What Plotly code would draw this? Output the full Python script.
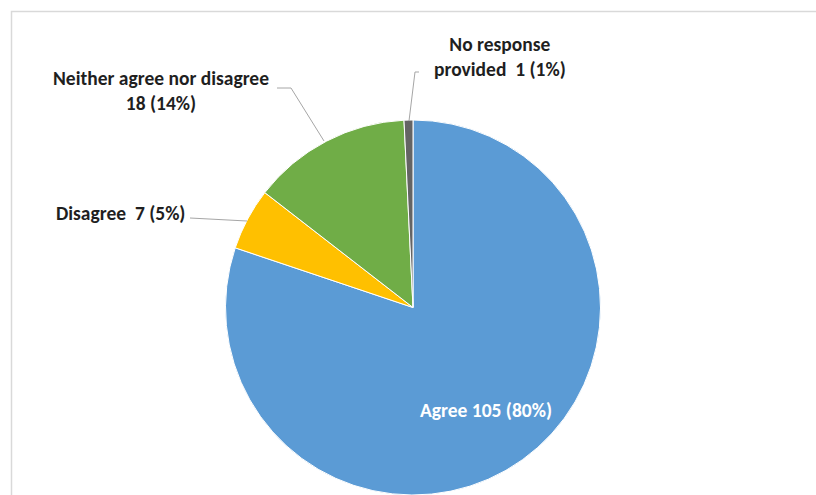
import plotly.graph_objects as go

# Survey responses
categories = ["Agree", "Disagree", "Neither agree nor disagree", "No response provided"]
counts = [105, 7, 18, 1]
percents = [80, 5, 14, 1]
colors = ["#5B9BD5", "#FFC000", "#70AD47", "#646464"]

W, H = 816, 495


def px(x):
    return x / W


def py(y):
    return 1 - y / H


fig = go.Figure(
    go.Pie(
        labels=categories,
        values=counts,
        sort=False,
        direction="clockwise",
        rotation=0,
        textinfo="none",
        hoverinfo="label+value+percent",
        marker=dict(colors=colors, line=dict(color="white", width=1)),
        domain=dict(x=[px(223), px(603)], y=[0, py(120)]),
        showlegend=False,
    )
)

font = dict(family="Carlito, Lato, sans-serif", size=19.5, color="#1f1f1f")

labels_text = [
    f"<b>{categories[0]} {counts[0]} ({percents[0]}%)</b>",
    f"<b>{categories[1]}  {counts[1]} ({percents[1]}%)</b>",
    f"<b>{categories[2]}<br>{counts[2]} ({percents[2]}%)</b>",
    f"<b>No response<br>provided  {counts[3]} ({percents[3]}%)</b>",
]
label_pos = [(486, 410), (120, 213), (161, 90), (500, 57)]

for i, (t, (x, y)) in enumerate(zip(labels_text, label_pos)):
    f = dict(font)
    if i == 0:
        f["color"] = "white"
    fig.add_annotation(
        text=t, x=px(x), y=py(y), xref="paper", yref="paper",
        showarrow=False, xanchor="center", yanchor="middle",
        align="center", font=f,
    )

# Leader lines from labels to slices
leaders = [
    [(190, 218), (247, 221)],
    [(277, 88), (291, 88), (324, 141)],
    [(419, 72), (415, 72), (409, 121)],
]
for pts in leaders:
    path = "M " + " L ".join(f"{px(x)},{py(y)}" for x, y in pts)
    fig.add_shape(type="path", path=path, xref="paper", yref="paper",
                  line=dict(color="#a6a6a6", width=1))

# Chart area border
fig.add_shape(type="rect", xref="paper", yref="paper",
              x0=px(11.5), y0=py(520), x1=px(840), y1=py(11.5),
              line=dict(color="#d9d9d9", width=1.5), fillcolor="rgba(0,0,0,0)")

fig.update_layout(
    width=W, height=H,
    margin=dict(l=0, r=0, t=0, b=0),
    paper_bgcolor="white",
    plot_bgcolor="white",
)

fig.write_html("out.html")
